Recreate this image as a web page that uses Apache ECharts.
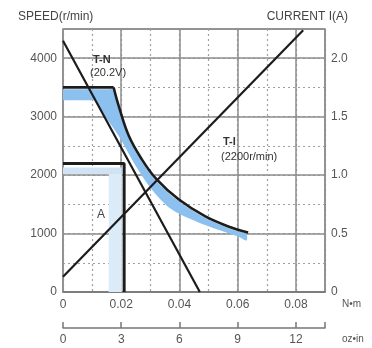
<!DOCTYPE html>
<html><head><meta charset="utf-8">
<script src="https://cdn.jsdelivr.net/npm/echarts@6/dist/echarts.min.js"></script>
<style>html,body{margin:0;padding:0;background:#fff}#c{width:372px;height:348px}</style>
</head><body><div id="c"></div>
<script>
// ---- data (torque N·m, speed r/min / current A) ----
const xTickLabels = ['0', '0.02', '0.04', '0.06', '0.08'];
const ozTickLabels = ['0', '3', '6', '9', '12'];
const speedTickLabels = ['0', '1000', '2000', '3000', '4000'];
const currentTickLabels = ['0', '0.5', '1.0', '1.5', '2.0'];

const tnLine = [[0, 4300], [0.047, 0]];
const currentLine = [[0, 0.13], [0.0825, 2.24]];
const tnFlat20V = [[0, 3500], [0.0174, 3500]];
const tnCurve20V = [[0.0174, 3500], [0.0191, 3190], [0.0226, 2672], [0.0270, 2276],
  [0.0321, 1931], [0.0397, 1586], [0.0489, 1293], [0.0578, 1103], [0.0636, 1017]];
const bandFlat = [[0, 3280], [0.0171, 3280], [0.0171, 3470], [0, 3470]];
const bandUpper = [[0.0171, 3470], [0.0189, 3160], [0.0224, 2650], [0.0268, 2250],
  [0.0320, 1900], [0.0397, 1555], [0.0489, 1265], [0.0578, 1075], [0.063, 990]];
const bandLower = [[0.0115, 3280], [0.0146, 3000], [0.0191, 2672], [0.025, 2155],
  [0.0304, 1759], [0.0373, 1414], [0.0465, 1190], [0.0602, 948], [0.063, 880]];
const rect2200 = [[0, 2200], [0.021, 2200], [0.021, 0]];
const bandA_H = [[0, 2020], [0.0202, 2020], [0.0202, 2130], [0, 2130]];
const bandA_V = [[0.0157, 0], [0.0202, 0], [0.0202, 2020], [0.0157, 2020]];

const FONT = 'Liberation Sans';
const labelColor = '#555';
const gridSolid = '#8c8c8c';
const gridDash = '#a0a0a0';

function polySeries(pts, fill, z, smooth) {
  return {
    type: 'custom', coordinateSystem: 'cartesian2d', xAxisIndex: 0, yAxisIndex: 0,
    data: pts, silent: true, z: z, clip: true,
    renderItem: function (params, api) {
      if (params.dataIndex !== 0) return null;
      return { type: 'polygon', shape: { points: pts.map(p => api.coord(p)), smooth: smooth || 0 }, style: { fill: fill } };
    }
  };
}
function lineSeries(pts, width, yIdx, smooth) {
  return {
    type: 'line', data: pts, xAxisIndex: 0, yAxisIndex: yIdx || 0, showSymbol: false, silent: true,
    smooth: smooth || false,
    lineStyle: { color: '#1c1c1c', width: width }, z: 5, animation: false
  };
}

const chart = echarts.init(document.getElementById('c'));
const bandPoly = bandUpper.concat(bandLower.slice().reverse());

chart.setOption({
  animation: false,
  grid: [
    { left: 63, right: 47, top: 29, bottom: 56, show: true, borderColor: '#8a8a8a', borderWidth: 1.5 },
    { left: 63, right: 47, top: 327, height: 1 }
  ],
  xAxis: [
    { gridIndex: 0, type: 'value', min: 0, max: 0.09, interval: 0.01,
      axisLine: { show: true, lineStyle: { color: '#777', width: 1.5 } }, axisTick: { show: false },
      axisLabel: { color: labelColor, fontFamily: FONT, fontSize: 12, margin: 7,
        formatter: v => { const k = Math.round(v * 100); return k % 2 === 0 ? (xTickLabels[k / 2] || '') : ''; } },
      splitLine: { show: true, lineStyle: { color: gridDash, type: [2, 3], width: 1.2 } } },
    { gridIndex: 0, type: 'value', min: 0, max: 0.09, interval: 0.02, position: 'bottom',
      axisLine: { show: false }, axisTick: { show: false }, axisLabel: { show: false },
      splitLine: { show: true, lineStyle: { color: gridSolid, width: 1.5 } } },
    { gridIndex: 1, type: 'value', min: 0, max: 13.5, interval: 3, position: 'bottom',
      axisLine: { show: true, lineStyle: { color: '#777', width: 1.5 } },
      axisTick: { show: true, inside: true, length: 6, lineStyle: { color: '#777', width: 1.5 } },
      axisLabel: { color: labelColor, fontFamily: FONT, fontSize: 12, margin: 6,
        formatter: v => { const k = Math.round(v / 3); return Math.abs(v - k * 3) < 1e-6 ? (ozTickLabels[k] || '') : ''; } },
      splitLine: { show: false } }
  ],
  yAxis: [
    { gridIndex: 0, type: 'value', min: 0, max: 4500, interval: 500, position: 'left',
      axisLine: { show: false }, axisTick: { show: false },
      axisLabel: { color: labelColor, fontFamily: FONT, fontSize: 12, margin: 6,
        formatter: v => v % 1000 === 0 ? (speedTickLabels[v / 1000] || '') : '' },
      splitLine: { show: true, lineStyle: { color: gridDash, type: [2, 3], width: 1.2 } } },
    { gridIndex: 0, type: 'value', min: 0, max: 2.25, interval: 0.25, position: 'right',
      axisLine: { show: false }, axisTick: { show: false },
      axisLabel: { color: labelColor, fontFamily: FONT, fontSize: 12, margin: 6,
        formatter: v => { const k = Math.round(v * 2); return Math.abs(v * 2 - k) < 1e-6 ? (currentTickLabels[k] || '') : ''; } },
      splitLine: { show: false } },
    { gridIndex: 0, type: 'value', min: 0, max: 4500, interval: 1000, position: 'left',
      axisLine: { show: false }, axisTick: { show: false }, axisLabel: { show: false },
      splitLine: { show: true, lineStyle: { color: gridSolid, width: 1.5 } } },
    { gridIndex: 1, type: 'value', min: 0, max: 1, show: false }
  ],
  graphic: [
    { type: 'text', left: 18, top: 11, style: { text: 'SPEED(r/min)', font: '12px ' + FONT, fill: '#444' } },
    { type: 'text', right: 24, top: 11, style: { text: 'CURRENT I(A)', font: '12px ' + FONT, fill: '#444' } },
    { type: 'text', left: 342, top: 299, style: { text: 'N•m', font: '10px ' + FONT, fill: '#555' } },
    { type: 'text', left: 342, top: 334, style: { text: 'oz•in', font: '10px ' + FONT, fill: '#555' } },
    { type: 'text', left: 93, top: 54, z: 10, style: { text: 'T-N', font: 'bold 11px ' + FONT, fill: '#333' } },
    { type: 'text', left: 90, top: 67, z: 10, style: { text: '(20.2V)', font: '11px ' + FONT, fill: '#333' } },
    { type: 'text', left: 223, top: 136, z: 10, style: { text: 'T-I', font: 'bold 11px ' + FONT, fill: '#333' } },
    { type: 'text', left: 221, top: 151, z: 10, style: { text: '(2200r/min)', font: '11px ' + FONT, fill: '#333' } },
    { type: 'text', left: 97, top: 209, z: 10, style: { text: 'A', font: '12px ' + FONT, fill: '#444' } }
  ],
  series: [
    polySeries(bandA_V, '#dcebf8', 1),
    polySeries(bandA_H, '#cfe3f5', 1),
    polySeries(bandFlat, '#8cc0ee', 2),
    polySeries(bandPoly, '#8cc0ee', 2, 0.3),
    lineSeries(rect2200, 3),
    lineSeries(tnFlat20V, 2.8),
    lineSeries(tnCurve20V, 2.6, 0, 0.4),
    lineSeries(tnLine, 2.2),
    lineSeries(currentLine, 2.2, 1)
  ]
});
</script></body></html>
